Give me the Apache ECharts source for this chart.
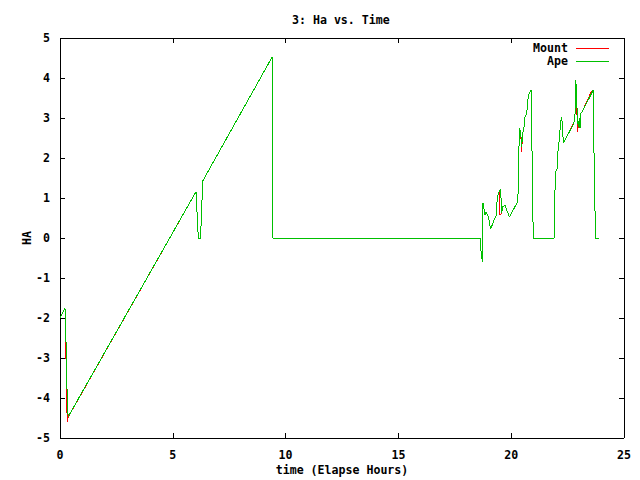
<!DOCTYPE html>
<html>
<head>
<meta charset="utf-8">
<script src="https://cdn.jsdelivr.net/npm/echarts@6/dist/echarts.min.js"></script>
<style>
html,body{margin:0;padding:0;background:#fff;}
#c{width:640px;height:480px;}
#c svg path{shape-rendering:crispEdges;}
</style>
</head>
<body>
<div id="c"></div>
<script>
const titleText = '3: Ha vs. Time';
const xName = 'time (Elapse Hours)';
const yName = 'HA';
const seriesNames = ['Mount', 'Ape'];

const apeTime = [0, 0.22, 0.26, 0.28, 0.32, 0.36, 6.03, 6.13, 6.23, 6.29, 6.32, 9.41, 9.42, 9.44, 18.62, 18.64, 18.72, 18.75, 18.84, 18.88, 18.93, 18.99, 19.09, 19.21, 19.35, 19.36, 19.43, 19.53, 19.58, 19.62, 19.73, 19.83, 19.92, 20.29, 20.32, 20.36, 20.42, 20.46, 20.51, 20.57, 20.61, 20.69, 20.74, 20.80, 20.88, 20.91, 20.95, 20.98, 21.91, 21.92, 21.97, 22.04, 22.09, 22.13, 22.19, 22.24, 22.28, 22.31, 22.78, 22.83, 22.87, 22.88, 22.93, 22.97, 23.02, 23.05, 23.09, 23.15, 23.64, 23.65, 23.71, 23.73, 23.90];
const apeHA = [-2.0, -1.75, -2.3, -3.2, -3.95, -4.47, 1.16, 0, 0, 0.87, 1.42, 4.53, 2.28, 0, 0, -0.22, -0.59, 0.87, 0.57, 0.65, 0.6, 0.53, 0.22, 0.41, 0.57, 0.87, 1.12, 1.22, 0.62, 0.78, 0.82, 0.66, 0.53, 0.91, 1.41, 2.74, 2.66, 2.28, 2.62, 2.78, 3.03, 3.12, 3.45, 3.62, 3.70, 2.78, 0.91, 0, 0, 0.82, 1.66, 1.74, 2.37, 2.41, 2.91, 3.03, 2.7, 2.37, 2.87, 3.12, 3.95, 3.66, 3.12, 2.78, 2.99, 2.74, 3.12, 3.16, 3.70, 2.78, 0.91, 0, 0];

const mountTime = [0, 0.22, 0.25, 0.29, 0.32, 0.37, 6.03, 6.13, 6.23, 6.29, 6.32, 9.41, 9.42, 9.44, 18.62, 18.64, 18.72, 18.75, 18.84, 18.88, 18.93, 18.99, 19.09, 19.21, 19.35, 19.36, 19.43, 19.48, 19.50, 19.58, 19.62, 19.73, 19.83, 19.92, 20.29, 20.32, 20.36, 20.42, 20.46, 20.51, 20.57, 20.61, 20.69, 20.74, 20.80, 20.88, 20.91, 20.95, 20.98, 21.91, 21.92, 21.97, 22.04, 22.09, 22.13, 22.19, 22.24, 22.28, 22.31, 22.71, 22.78, 22.83, 22.84, 22.90, 22.93, 22.97, 23.02, 23.05, 23.07, 23.09, 23.15, 23.55, 23.64, 23.65, 23.71, 23.73, 23.90];
const mountHA = [-2.0, -1.75, -2.4, -3.9, -4.59, -4.47, 1.16, 0, 0, 0.87, 1.42, 4.53, 2.28, 0, 0, -0.22, -0.59, 0.87, 0.57, 0.65, 0.6, 0.53, 0.22, 0.41, 0.57, 0.87, 1.12, 1.15, 0.57, 0.62, 0.78, 0.82, 0.66, 0.53, 0.91, 1.41, 2.74, 2.66, 2.16, 2.62, 2.78, 3.03, 3.12, 3.45, 3.62, 3.70, 2.78, 0.91, 0, 0, 0.82, 1.66, 1.74, 2.37, 2.41, 2.91, 3.03, 2.7, 2.37, 2.82, 2.87, 3.12, 3.66, 3.66, 2.66, 2.78, 2.99, 2.74, 2.95, 3.12, 3.16, 3.66, 3.70, 2.78, 0.91, 0, 0];

const xMin = 0, xMax = 25, xStep = 5;
const yMin = -5, yMax = 5, yStep = 1;

const FONT = 'DejaVu Sans Mono';
const txt = {color: '#000', fontFamily: FONT, fontSize: 11.6, fontWeight: 'bold'};

function pairs(t, v) { return t.map((x, i) => [x, v[i]]); }

const axisCommon = {
  axisLine: {show: true, onZero: false, lineStyle: {color: '#000', width: 1}},
  axisTick: {show: true, inside: true, length: 5, lineStyle: {color: '#000', width: 1}},
  splitLine: {show: false},
  minorTick: {show: false}
};

const chart = echarts.init(document.getElementById('c'), null, {renderer: 'svg'});
chart.setOption({
  animation: false,
  backgroundColor: '#fff',
  title: {
    text: titleText, left: 292, top: 14, padding: 0,
    textStyle: Object.assign({}, txt)
  },
  legend: {
    orient: 'vertical', right: 31, top: 42, padding: 0, align: 'right',
    itemWidth: 33, itemHeight: 1, itemGap: 1,
    icon: 'rect',
    itemStyle: {borderWidth: 0},
    textStyle: Object.assign({lineHeight: 11.5, padding: [0, 3, 0, 0]}, txt),
    data: seriesNames
  },
  grid: {left: 60, right: 16, top: 38, bottom: 42, containLabel: false, outerBoundsMode: 'none'},
  xAxis: [
    Object.assign({
      type: 'value', position: 'bottom', min: xMin, max: xMax, interval: xStep,
      name: xName, nameLocation: 'middle', nameGap: 26, nameMoveOverlap: false, nameTextStyle: Object.assign({}, txt),
      axisLabel: Object.assign({margin: 11}, txt)
    }, axisCommon),
    Object.assign({
      type: 'value', position: 'top', min: xMin, max: xMax, interval: xStep,
      axisLabel: {show: false}
    }, axisCommon)
  ],
  yAxis: [
    Object.assign({
      type: 'value', position: 'left', min: yMin, max: yMax, interval: yStep,
      name: yName, nameLocation: 'middle', nameGap: 27, nameMoveOverlap: false, nameRotate: 90, nameTextStyle: Object.assign({}, txt),
      axisLabel: Object.assign({margin: 10}, txt)
    }, axisCommon),
    Object.assign({
      type: 'value', position: 'right', min: yMin, max: yMax, interval: yStep,
      axisLabel: {show: false}
    }, axisCommon)
  ],
  series: [
    {
      name: seriesNames[0], type: 'line', data: pairs(mountTime, mountHA),
      symbol: 'none', showSymbol: false, silent: true,
      lineStyle: {color: '#ff0000', width: 1}, itemStyle: {color: '#ff0000'}
    },
    {
      name: seriesNames[1], type: 'line', data: pairs(apeTime, apeHA),
      symbol: 'none', showSymbol: false, silent: true,
      lineStyle: {color: '#00c000', width: 1}, itemStyle: {color: '#00c000'}
    }
  ]
});
</script>
</body>
</html>
